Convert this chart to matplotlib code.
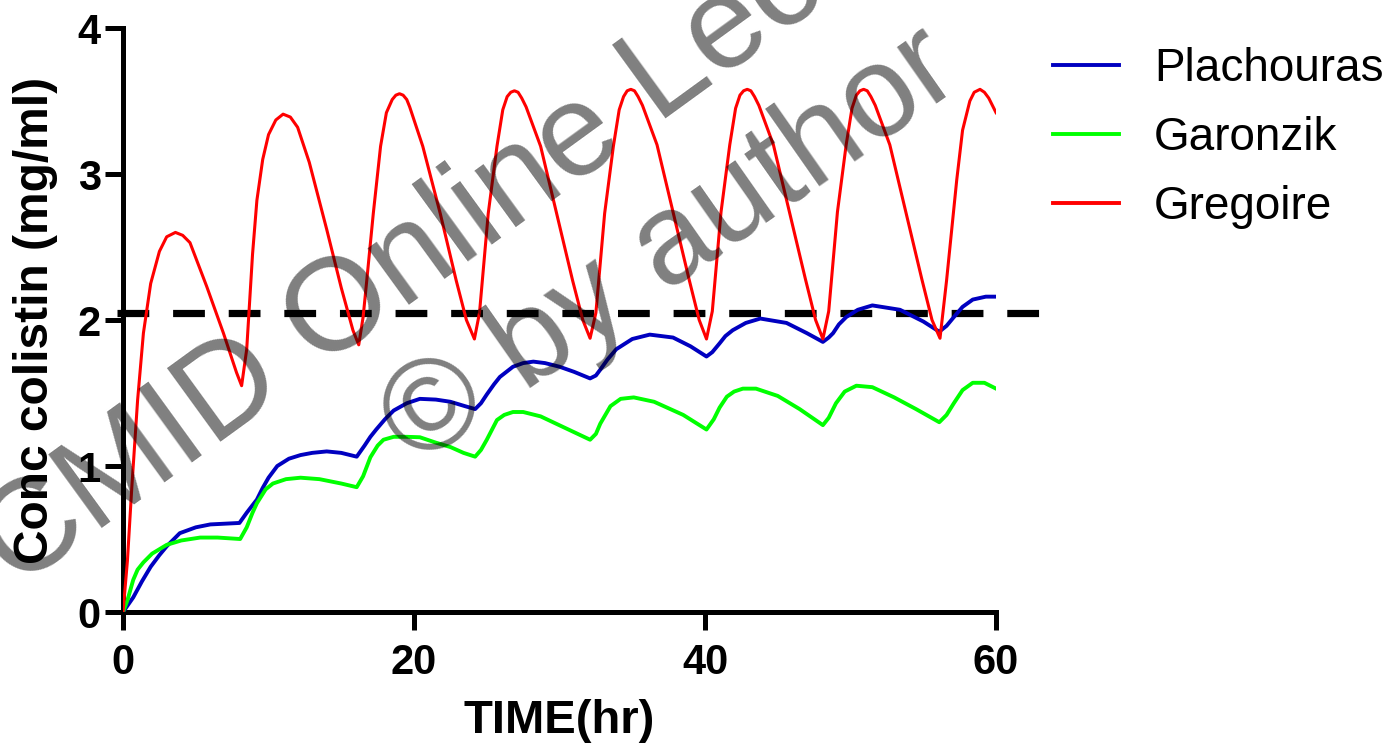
import numpy as np
import matplotlib
matplotlib.use("Agg")
import matplotlib.pyplot as plt

plt.rcParams['font.family'] = ['Liberation Sans', 'DejaVu Sans']

# Plachouras model (blue)
plach_t = [0, 0.7, 1.3, 1.9, 2.5, 3.0, 3.9, 5.0, 6.0, 7.0, 8.0, 8.5, 9.2, 9.6, 10.0, 10.6,
           11.4, 12.2, 13.0, 14.0, 15.0, 16.06, 16.6, 17.0, 17.4, 18.0, 18.6, 19.5, 20.4,
           21.5, 22.5, 23.5, 24.2, 24.6, 25.0, 25.5, 25.9, 26.8, 27.5, 28.2, 29.0, 30.0,
           31.0, 32.1, 32.5, 32.8, 33.3, 33.9, 35.0, 36.2, 37.8, 39.0, 40.1, 40.5, 41.0,
           41.4, 41.9, 42.8, 43.8, 45.6, 47.0, 48.1, 48.5, 48.8, 49.2, 49.7, 50.5, 51.5,
           53.4, 55.0, 56.1, 56.6, 57.1, 57.7, 58.4, 59.3, 60.0]
plach_c = [0, 0.10, 0.21, 0.31, 0.39, 0.45, 0.54, 0.58, 0.60, 0.605, 0.61, 0.68, 0.77, 0.85, 0.92, 1.00,
           1.05, 1.075, 1.09, 1.10, 1.09, 1.064, 1.14, 1.20, 1.25, 1.32, 1.38, 1.43, 1.46,
           1.455, 1.44, 1.41, 1.39, 1.43, 1.49, 1.56, 1.61, 1.68, 1.705, 1.715, 1.705, 1.68,
           1.645, 1.60, 1.62, 1.66, 1.73, 1.80, 1.87, 1.90, 1.88, 1.82, 1.75, 1.78, 1.84,
           1.89, 1.93, 1.98, 2.01, 1.98, 1.91, 1.85, 1.88, 1.91, 1.97, 2.02, 2.07, 2.10,
           2.07, 1.99, 1.92, 1.96, 2.02, 2.09, 2.14, 2.16, 2.16]

# Garonzik model (green)
garon_t = [0, 0.3, 0.7, 1.0, 1.4, 2.0, 3.0, 4.0, 5.3, 6.5, 8.05, 8.5, 8.9, 9.2, 9.8, 10.3,
           11.2, 12.2, 13.5, 15.0, 16.06, 16.5, 17.0, 17.5, 17.9, 18.6, 19.5, 20.4, 21.5,
           22.5, 23.4, 24.2, 24.6, 25.0, 25.7, 26.2, 26.8, 27.5, 28.7, 30.4, 32.1, 32.5, 32.8,
           33.5, 34.2, 35.1, 36.5, 38.5, 40.1, 40.6, 41.0, 41.5, 42.0, 42.6, 43.5, 45.0, 46.5,
           48.1, 48.5, 49.0, 49.6, 50.4, 51.5, 53.0, 54.5, 56.1, 56.6, 57.1, 57.7,
           58.4, 59.2, 60.0]
garon_c = [0, 0.08, 0.22, 0.29, 0.34, 0.40, 0.46, 0.49, 0.51, 0.51, 0.50, 0.58, 0.68, 0.745, 0.84, 0.88,
           0.91, 0.92, 0.91, 0.88, 0.855, 0.93, 1.06, 1.14, 1.18, 1.20, 1.20, 1.197, 1.16,
           1.13, 1.09, 1.064, 1.11, 1.18, 1.315, 1.35, 1.37, 1.37, 1.34, 1.26, 1.18, 1.22, 1.29,
           1.41, 1.46, 1.47, 1.44, 1.35, 1.25, 1.32, 1.40, 1.475, 1.51, 1.53, 1.53, 1.48, 1.39,
           1.28, 1.33, 1.43, 1.51, 1.55, 1.54, 1.47, 1.39, 1.30, 1.35, 1.43, 1.52,
           1.57, 1.57, 1.53]

# Gregoire model (red)
greg_t = [0, 0.3, 0.6, 1.0, 1.4, 1.9, 2.5, 3.0, 3.6, 4.1, 4.6, 5.75, 6.9, 7.8,
          8.15, 8.5, 8.9, 9.2, 9.6, 10.0, 10.5, 11.0, 11.5, 12.0, 12.8, 14.0, 15.0, 15.8,
          16.2, 16.5, 16.75, 17.2, 17.7, 18.1, 18.5, 18.75, 19.0, 19.25, 19.5, 19.7, 20.6, 21.8, 22.9, 23.6,
          24.15, 24.5, 25.1, 25.7, 26.1, 26.4, 26.65, 26.9, 27.15, 27.4, 27.7, 28.7, 29.8, 30.9, 31.6,
          32.1, 32.5, 33.1, 33.7, 34.1, 34.4, 34.65, 34.9, 35.15, 35.4, 35.7, 36.7, 37.8, 38.9, 39.6,
          40.1, 40.5, 41.1, 41.7, 42.1, 42.4, 42.65, 42.9, 43.15, 43.4, 43.7, 44.7, 45.8, 46.9, 47.6,
          48.1, 48.5, 49.1, 49.7, 50.1, 50.4, 50.65, 50.9, 51.15, 51.4, 51.7, 52.7, 53.8, 54.9, 55.6,
          56.15, 56.6, 57.3, 57.7, 58.2, 58.5, 58.9, 59.2, 59.5, 59.75, 60.0]
greg_c = [0, 0.35, 0.85, 1.45, 1.91, 2.25, 2.47, 2.57, 2.60, 2.58, 2.53, 2.23, 1.91, 1.64,
          1.55, 1.80, 2.45, 2.82, 3.10, 3.27, 3.37, 3.41, 3.39, 3.32, 3.08, 2.62, 2.22, 1.93,
          1.83, 2.02, 2.27, 2.73, 3.19, 3.42, 3.51, 3.54, 3.55, 3.54, 3.51, 3.46, 3.19, 2.73, 2.27, 2.00,
          1.87, 2.05, 2.73, 3.19, 3.44, 3.53, 3.56, 3.57, 3.56, 3.52, 3.46, 3.19, 2.73, 2.27, 2.00,
          1.875, 2.05, 2.73, 3.19, 3.44, 3.53, 3.57, 3.58, 3.57, 3.53, 3.47, 3.20, 2.74, 2.28, 2.00,
          1.87, 2.06, 2.74, 3.20, 3.45, 3.54, 3.57, 3.58, 3.57, 3.53, 3.47, 3.20, 2.74, 2.28, 2.00,
          1.87, 2.06, 2.74, 3.20, 3.45, 3.54, 3.57, 3.58, 3.57, 3.53, 3.47, 3.20, 2.74, 2.28, 2.00,
          1.875, 2.27, 2.96, 3.30, 3.50, 3.56, 3.58, 3.56, 3.52, 3.47, 3.42]

# target line
target_t = [-0.4, 63.0]
target_c = [2.05, 2.05]

fig = plt.figure(figsize=(13.95, 7.47), dpi=100)
ax = fig.add_axes([0.0882, 0.1807, 0.714 - 0.0882, 0.9625 - 0.1807])

ax.plot(target_t, target_c, color='black', lw=5.2, dashes=(4.4, 3.3), clip_on=False, zorder=2)
ax.plot(plach_t, plach_c, color='#0000C0', lw=2.8, label='Plachouras', zorder=3)
ax.plot(garon_t, garon_c, color='#00FF00', lw=2.8, label='Garonzik', zorder=3)
ax.plot(greg_t, greg_c, color='#FF0000', lw=2.2, label='Gregoire', zorder=3)

ax.set_xlim(0, 60)
ax.set_ylim(0, 4)
ax.set_xticks([0, 20, 40, 60])
ax.set_yticks([0, 1, 2, 3, 4])
for s in ['top', 'right']:
    ax.spines[s].set_visible(False)
for s in ['left', 'bottom']:
    ax.spines[s].set_linewidth(3.6)
ax.tick_params(length=13, width=3.6, labelsize=30, direction='out')
ax.tick_params(axis='x', pad=9)
ax.tick_params(axis='y', pad=3)
for lab in ax.get_xticklabels() + ax.get_yticklabels():
    lab.set_fontweight('bold')

ax.set_xlabel('TIME(hr)', fontsize=34, fontweight='bold', labelpad=12)
ax.set_ylabel('Conc colistin (mg/ml)', fontsize=34.5, fontweight='bold', labelpad=14)

leg = ax.legend(loc='upper left', bbox_to_anchor=(1.018, 1.038), frameon=False,
                fontsize=33, handlelength=1.45, handletextpad=0.75, labelspacing=0.54)
for line in leg.get_lines():
    line.set_linewidth(2.8)

# watermark
fig.text(495 / 1395, 1 - 200 / 747, 'CMID Online Lecture', fontsize=95, color='black',
         alpha=0.5, rotation=36, rotation_mode='anchor', ha='center', va='center', zorder=10)
fig.text(672 / 1395, 1 - 248 / 747, '\u00a9 by author', fontsize=93, color='black',
         alpha=0.5, rotation=35, rotation_mode='anchor', ha='center', va='center', zorder=10)

fig.savefig('out.png', dpi=100)
